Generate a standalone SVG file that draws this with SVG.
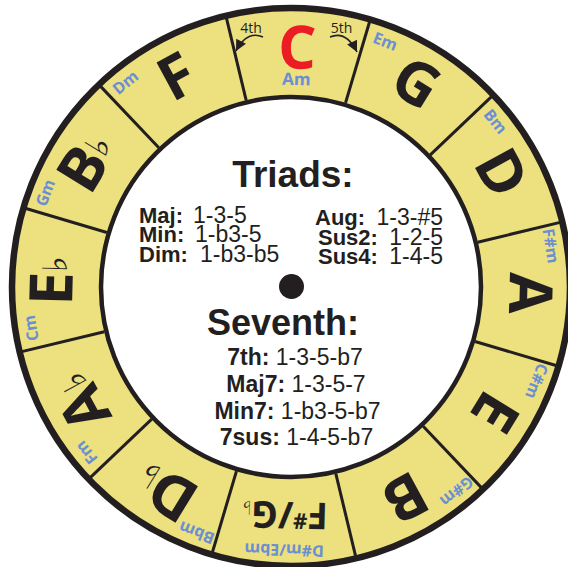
<svg xmlns="http://www.w3.org/2000/svg" width="568" height="567" viewBox="0 0 568 567">
<style>
.ringfill{fill:#ece07f}
.ringedge{fill:none;stroke:#231f20;stroke-width:6.5}
.inner{fill:#fff;stroke:#231f20;stroke-width:4.5}
.div{stroke:#231f20;stroke-width:3}
.note{font-family:"Open Sans","Liberation Sans",sans-serif;font-weight:700;font-size:60px;fill:#231f20;text-anchor:middle}
.minor{font-family:"Open Sans","Liberation Sans",sans-serif;font-weight:700;font-size:16px;fill:#6b8fd2;text-anchor:middle}
.flat{font-family:"DejaVu Sans",sans-serif;font-weight:400;font-size:34px}
.h{font-family:"Liberation Sans",Arial,sans-serif;font-weight:700;fill:#231f20}
.t{font-family:"Liberation Sans",Arial,sans-serif;font-size:22px;fill:#231f20}
.v{font-family:"Liberation Sans",Arial,sans-serif;font-size:23px;fill:#231f20}
.s{font-family:"Liberation Sans",Arial,sans-serif;font-size:23px;fill:#231f20}
.b{font-weight:700}
.lbl{font-family:"Open Sans","Liberation Sans",sans-serif;font-size:14px;fill:#231f20;text-anchor:middle}
.arr{fill:none;stroke:#231f20;stroke-width:1.6}
</style>
<defs>
<marker id="ah" viewBox="0 0 10 10" refX="10" refY="5" markerWidth="12" markerHeight="11" markerUnits="userSpaceOnUse" orient="auto">
<path d="M0,0 L10,5 L0,10 z" fill="#231f20"/>
</marker>
</defs>

<g id="wheel">
<circle class="ringfill" cx="291" cy="287" r="279"/>
<g id="dividers">
<line class="div" x1="291" y1="95" x2="291" y2="8" transform="rotate(-13.5 291 287)"/>
<line class="div" x1="291" y1="95" x2="291" y2="8" transform="rotate(16.5 291 287)"/>
<line class="div" x1="291" y1="95" x2="291" y2="8" transform="rotate(46.5 291 287)"/>
<line class="div" x1="291" y1="95" x2="291" y2="8" transform="rotate(76.5 291 287)"/>
<line class="div" x1="291" y1="95" x2="291" y2="8" transform="rotate(106.5 291 287)"/>
<line class="div" x1="291" y1="95" x2="291" y2="8" transform="rotate(136.5 291 287)"/>
<line class="div" x1="291" y1="95" x2="291" y2="8" transform="rotate(166.5 291 287)"/>
<line class="div" x1="291" y1="95" x2="291" y2="8" transform="rotate(196.5 291 287)"/>
<line class="div" x1="291" y1="95" x2="291" y2="8" transform="rotate(226.5 291 287)"/>
<line class="div" x1="291" y1="95" x2="291" y2="8" transform="rotate(256.5 291 287)"/>
<line class="div" x1="291" y1="95" x2="291" y2="8" transform="rotate(286.5 291 287)"/>
<line class="div" x1="291" y1="95" x2="291" y2="8" transform="rotate(316.5 291 287)"/>
</g>
<circle class="ringedge" cx="291" cy="287" r="279"/>
<circle class="inner" cx="291" cy="287" r="190"/>
<circle cx="291.5" cy="286.5" r="12.5" fill="#231f20"/>
</g>

<g id="seg-C">
<g transform="rotate(1.5 291 287)">
<text class="note" x="291" y="68.5" style="fill:#ec1c24">C</text>
<text class="minor" x="291" y="85" style="font-size:17px">Am</text>
</g>
</g>
<g id="seg-G">
<text class="note" x="291" y="68.5" transform="rotate(31.5 291 287)">G</text>
<text class="minor" x="291" y="29.5" transform="rotate(21 291 287)">Em</text>
</g>
<g id="seg-D">
<text class="note" x="291" y="68.5" transform="rotate(61.5 291 287)">D</text>
<text class="minor" x="291" y="29.5" transform="rotate(51 291 287)">Bm</text>
</g>
<g id="seg-A">
<text class="note" x="291" y="68.5" transform="rotate(91.5 291 287)">A</text>
<text class="minor" x="291" y="29.5" transform="rotate(81 291 287)">F#m</text>
</g>
<g id="seg-E">
<text class="note" x="291" y="68.5" transform="rotate(121.5 291 287)">E</text>
<text class="minor" x="291" y="29.5" transform="rotate(111 291 287)">C#m</text>
</g>
<g id="seg-B">
<text class="note" x="291" y="68.5" transform="rotate(151.5 291 287)">B</text>
<text class="minor" x="291" y="29.5" transform="rotate(141 291 287)">G#m</text>
</g>
<g id="seg-Fsharp">
<text class="note" x="291" y="72" style="font-size:37px" transform="rotate(181.5 291 287)">F<tspan style="font-size:22px" dy="-11">#</tspan><tspan dy="11">/G</tspan><tspan class="flat" style="font-size:19px">♭</tspan></text>
<text class="minor" x="291" y="29.5" transform="rotate(181.5 291 287)">D#m/Ebm</text>
</g>
<g id="seg-Db">
<text class="note" x="291" y="68.5" transform="rotate(211.5 291 287)">D<tspan class="flat" dy="-4">♭</tspan></text>
<text class="minor" x="291" y="29.5" transform="rotate(201 291 287)">Bbm</text>
</g>
<g id="seg-Ab">
<text class="note" x="291" y="68.5" transform="rotate(241.5 291 287)">A<tspan class="flat" dy="-6">♭</tspan></text>
<text class="minor" x="291" y="29.5" transform="rotate(231 291 287)">Fm</text>
</g>
<g id="seg-Eb">
<text class="note" x="291" y="68.5" transform="rotate(271.5 291 287)">E<tspan class="flat" dy="-6">♭</tspan></text>
<text class="minor" x="291" y="29.5" transform="rotate(261 291 287)">Cm</text>
</g>
<g id="seg-Bb">
<text class="note" x="291" y="68.5" transform="rotate(301.5 291 287)">B<tspan class="flat" dy="-8">♭</tspan></text>
<text class="minor" x="291" y="29.5" transform="rotate(291 291 287)">Gm</text>
</g>
<g id="seg-F">
<text class="note" x="291" y="68.5" transform="rotate(331.5 291 287)">F</text>
<text class="minor" x="291" y="29.5" transform="rotate(321 291 287)">Dm</text>
</g>

<g id="connectors">
<path class="arr" d="M263,37 Q247,30 236,51" marker-end="url(#ah)"/>
<path class="arr" d="M330,37 Q346,30 357,52" marker-end="url(#ah)"/>
</g>
<g id="interval-labels">
<text class="lbl" x="251" y="33">4th</text>
<text class="lbl" x="341.5" y="33">5th</text>
</g>

<g id="triads">
<text class="h" x="293" y="187" text-anchor="middle" style="font-size:37px">Triads:</text>
<text class="t b" x="139" y="222.5">Maj:</text><text class="v" x="193" y="222.5">1-3-5</text>
<text class="t b" x="139" y="242">Min:</text><text class="v" x="195" y="242">1-b3-5</text>
<text class="t b" x="139" y="261.5">Dim:</text><text class="v" x="200" y="261.5">1-b3-b5</text>
<text class="t b" x="315" y="225">Aug:</text><text class="v" x="443" y="225" text-anchor="end">1-3-#5</text>
<text class="t b" x="318" y="244.5">Sus2:</text><text class="v" x="443" y="244.5" text-anchor="end">1-2-5</text>
<text class="t b" x="318" y="264">Sus4:</text><text class="v" x="443" y="264" text-anchor="end">1-4-5</text>
</g>

<g id="seventh">
<text class="h" x="283" y="335" text-anchor="middle" style="font-size:36px">Seventh:</text>
<text class="s" x="295" y="365" text-anchor="middle"><tspan class="b">7th:</tspan> 1-3-5-b7</text>
<text class="s" x="296" y="391.5" text-anchor="middle"><tspan class="b">Maj7:</tspan> 1-3-5-7</text>
<text class="s" x="297.5" y="418.5" text-anchor="middle"><tspan class="b">Min7:</tspan> 1-b3-5-b7</text>
<text class="s" x="296.5" y="444.5" text-anchor="middle"><tspan class="b">7sus:</tspan> 1-4-5-b7</text>
</g>
</svg>
